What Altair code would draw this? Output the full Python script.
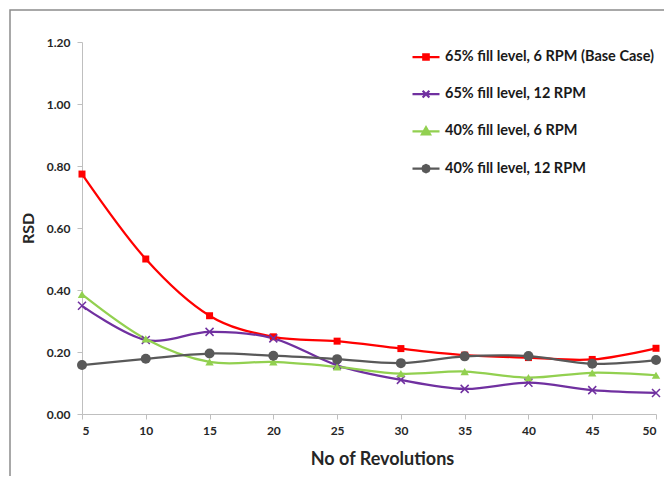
import altair as alt
import pandas as pd

revolutions = [5, 10, 15, 20, 25, 30, 35, 40, 45, 50]
series_names = [
    "65% fill level, 6 RPM (Base Case)",
    "65% fill level, 12 RPM",
    "40% fill level, 6 RPM",
    "40% fill level, 12 RPM",
]
rsd_65_6 = [0.774, 0.500, 0.317, 0.249, 0.235, 0.211, 0.190, 0.182, 0.176, 0.212]
rsd_65_12 = [0.349, 0.239, 0.265, 0.244, 0.157, 0.110, 0.081, 0.101, 0.077, 0.068]
rsd_40_6 = [0.386, 0.242, 0.168, 0.168, 0.152, 0.130, 0.137, 0.117, 0.133, 0.125]
rsd_40_12 = [0.158, 0.178, 0.195, 0.188, 0.177, 0.164, 0.186, 0.187, 0.162, 0.174]

colors = ["#FF0000", "#7030A0", "#92D050", "#595959"]

rows = []
for name, vals in zip(series_names, [rsd_65_6, rsd_65_12, rsd_40_6, rsd_40_12]):
    for r, v in zip(revolutions, vals):
        rows.append({"rev": r, "rsd": v, "series": name})
df = pd.DataFrame(rows)

FONT = "Lato"

x_enc = alt.X(
    "rev:Q",
    scale=alt.Scale(domain=[5, 50], nice=False, zero=False),
    axis=alt.Axis(
        values=revolutions, title="No of Revolutions", grid=False,
        domainColor="#BFBFBF", tickColor="#BFBFBF", tickSize=5,
        labelFont=FONT, labelFontSize=12, labelFontWeight="bold", labelColor="#262626",
        labelPadding=6, titleFont=FONT, titleFontSize=18, titleFontWeight="bold",
        titleColor="#262626", titlePadding=14, titleX=300,
    ),
)
y_enc = alt.Y(
    "rsd:Q",
    scale=alt.Scale(domain=[0, 1.2], nice=False),
    axis=alt.Axis(
        values=[0, 0.2, 0.4, 0.6, 0.8, 1.0, 1.2], format=".2f", title="RSD", grid=False,
        domainColor="#BFBFBF", tickColor="#BFBFBF", tickSize=5,
        labelFont=FONT, labelFontSize=12, labelFontWeight="bold", labelColor="#262626",
        labelPadding=7, titleFont=FONT, titleFontSize=16, titleFontWeight="bold",
        titleColor="#262626", titlePadding=10,
    ),
)

base = alt.Chart(df)

legend_shapes = [
    "M-1,0H1M-0.2,-0.2H0.2V0.2H-0.2Z",
    "M-1,0H1M-0.25,-0.25L0.25,0.25M-0.25,0.25L0.25,-0.25",
    "M-1,0H1M0,-0.3L0.3,0.22L-0.3,0.22Z",
    "M-1,0H1M0.27,0L0.19,0.19L0,0.27L-0.19,0.19L-0.27,0L-0.19,-0.19L0,-0.27L0.19,-0.19Z",
]


def make_leg():
    return alt.Legend(
        orient="none", legendX=329, legendY=0,
        symbolSize=729, symbolStrokeWidth=2.25, symbolOpacity=1,
        labelFont=FONT, labelFontSize=14.5, labelFontWeight="bold", labelColor="#1a1a1a",
        labelOffset=4, rowPadding=14.2, labelLimit=400,
    )


legend_layer = base.mark_point(filled=True, opacity=0, size=1).encode(
    x=x_enc, y=y_enc,
    fill=alt.Fill("series:N", scale=alt.Scale(domain=series_names, range=colors), legend=make_leg(), title=None),
    stroke=alt.Stroke("series:N", scale=alt.Scale(domain=series_names, range=colors), legend=make_leg(), title=None),
    shape=alt.Shape("series:N", scale=alt.Scale(domain=series_names, range=legend_shapes), legend=make_leg(), title=None),
)

lines = base.mark_line(interpolate="cardinal", strokeWidth=2.25).encode(
    x="rev:Q", y="rsd:Q",
    detail="series:N",
    color=alt.Color("series:N", scale=alt.Scale(domain=series_names, range=colors), legend=None),
)

marker_specs = [
    dict(shape="square", size=49, filled=True),
    dict(shape="M-1,-1L1,1M-1,1L1,-1", size=64, filled=False, strokeWidth=1.5),
    dict(shape="triangle-up", size=70, filled=True),
    dict(shape="circle", size=100, filled=True),
]
markers = []
for name, col, spec in zip(series_names, colors, marker_specs):
    markers.append(
        base.transform_filter(alt.datum.series == name)
        .mark_point(color=col, opacity=1, **spec)
        .encode(x="rev:Q", y="rsd:Q")
    )

frame_data = alt.Data(values=[{"a": 1}])
frame = alt.Chart(frame_data).mark_rect(
    filled=False, fill="transparent", stroke="#8C8C8C", strokeWidth=1.5
).encode(
    x=alt.value(-72), x2=alt.value(700), y=alt.value(-32), y2=alt.value(520)
)

chart = alt.layer(legend_layer, frame, lines, *markers).properties(
    width=574, height=372,
    background="white",
    autosize=alt.AutoSizeParams(type="none"),
    padding={"left": 74, "top": 34, "right": 8, "bottom": 62},
).configure_view(stroke=None)

chart.save("out.html", embed_options={"renderer": "svg", "actions": False})
